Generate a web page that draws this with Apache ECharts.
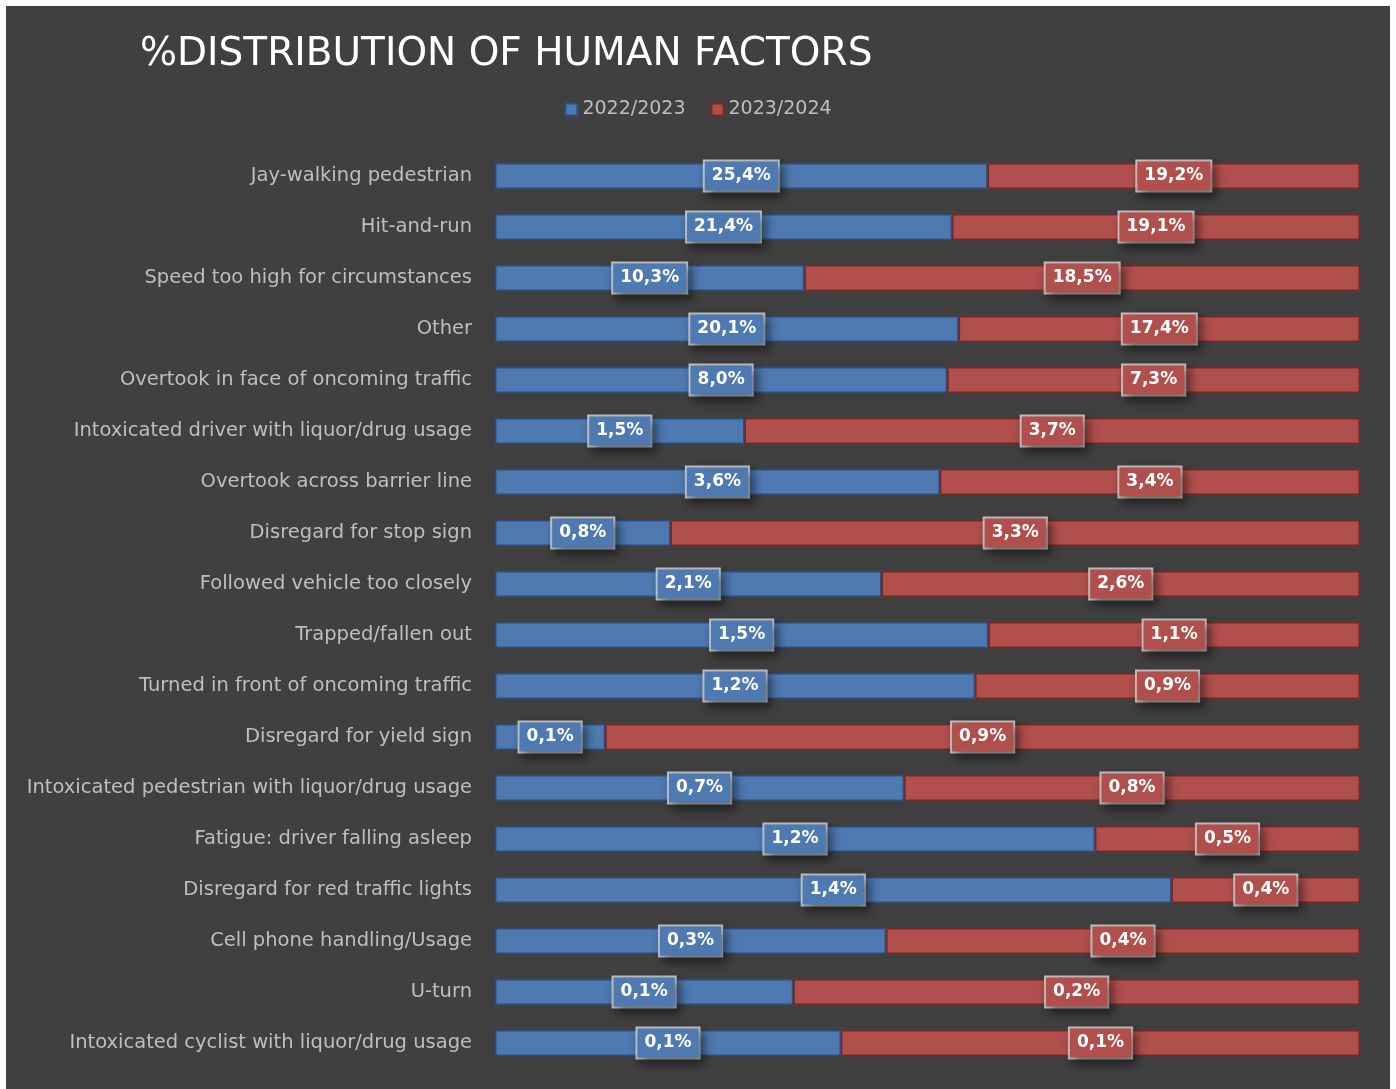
<!DOCTYPE html>
<html>
<head>
<meta charset="utf-8">
<script src="https://cdn.jsdelivr.net/npm/echarts@6/dist/echarts.min.js"></script>
<style>
html,body{margin:0;padding:0;background:#ffffff;width:1396px;height:1089px;overflow:hidden;}
#chart{position:absolute;left:6px;top:6px;width:1384px;height:1083px;}
</style>
</head>
<body>
<div id="chart"></div>
<script>
const categories = [
  "Jay-walking pedestrian",
  "Hit-and-run",
  "Speed too high for circumstances",
  "Other",
  "Overtook in face of oncoming traffic",
  "Intoxicated driver with liquor/drug usage",
  "Overtook across barrier line",
  "Disregard for stop sign",
  "Followed vehicle too closely",
  "Trapped/fallen out",
  "Turned in front of oncoming traffic",
  "Disregard for yield sign",
  "Intoxicated pedestrian with liquor/drug usage",
  "Fatigue: driver falling asleep",
  "Disregard for red traffic lights",
  "Cell phone handling/Usage",
  "U-turn",
  "Intoxicated cyclist with liquor/drug usage"
];
// Percentages (labels show one decimal; extra precision)
const values2022 = [25.4, 21.4, 10.3, 20.1, 8.0, 1.5, 3.6, 0.84, 2.1, 1.46, 1.16, 0.13, 0.7, 1.2, 1.4, 0.33, 0.1, 0.08];
const values2023 = [19.2, 19.1, 18.5, 17.4, 7.3, 3.7, 3.4, 3.3, 2.6, 1.1, 0.93, 0.89, 0.78, 0.53, 0.39, 0.4, 0.19, 0.12];
const seriesNames = ["2022/2023", "2023/2024"];

const share = (a, b) => a.map((v, i) => ({ value: v / (a[i] + b[i]) * 100, raw: v }));
const data1 = share(values2022, values2023);
const data2 = share(values2023, values2022);
const fmt = p => p.data.raw.toFixed(1).replace('.', ',') + '%';

function labelStyle(bg) {
  return {
    show: true,
    position: 'inside',
    formatter: fmt,
    color: '#ffffff',
    fontFamily: 'DejaVu Sans',
    fontWeight: 'bold',
    fontSize: 17,
    lineHeight: 21,
    backgroundColor: bg,
    borderColor: 'rgba(215,215,215,0.85)',
    borderWidth: 2,
    padding: [5, 7, 3, 7],
    shadowColor: 'rgba(0,0,0,0.45)',
    shadowBlur: 10,
    shadowOffsetX: 4,
    shadowOffsetY: 5
  };
}

const chart = echarts.init(document.getElementById('chart'));
chart.setOption({
  backgroundColor: '#404040',
  animation: false,
  title: {
    text: '%DISTRIBUTION OF HUMAN FACTORS',
    left: 129,
    top: 24,
    textStyle: { color: '#ffffff', fontFamily: 'DejaVu Sans', fontWeight: 'normal', fontSize: 39 }
  },
  legend: {
    data: seriesNames,
    left: 'center',
    top: 89,
    itemWidth: 12,
    itemHeight: 12,
    itemGap: 25,
    icon: 'rect',
    textStyle: { color: '#bfbfbf', fontFamily: 'DejaVu Sans', fontSize: 19 }
  },
  grid: { left: 489, right: 30, top: 144.5, height: 918 },
  xAxis: {
    type: 'value', min: 0, max: 100, show: false
  },
  yAxis: {
    type: 'category',
    data: categories,
    inverse: true,
    axisLine: { show: false },
    axisTick: { show: false },
    axisLabel: { color: '#bfbfbf', fontFamily: 'DejaVu Sans', fontSize: 19.5, margin: 23, padding: [3, 0, 0, 0] }
  },
  series: [
    {
      name: seriesNames[0], type: 'bar', stack: 'total', barWidth: 26,
      data: data1,
      itemStyle: { color: '#4e79b1', borderColor: '#2d4f80', borderWidth: 1.5 },
      label: labelStyle('#4e79b1')
    },
    {
      name: seriesNames[1], type: 'bar', stack: 'total', barWidth: 26,
      data: data2,
      itemStyle: { color: '#b14f4d', borderColor: '#7a2826', borderWidth: 1.5 },
      label: labelStyle('#b14f4d')
    }
  ]
});
</script>
</body>
</html>
